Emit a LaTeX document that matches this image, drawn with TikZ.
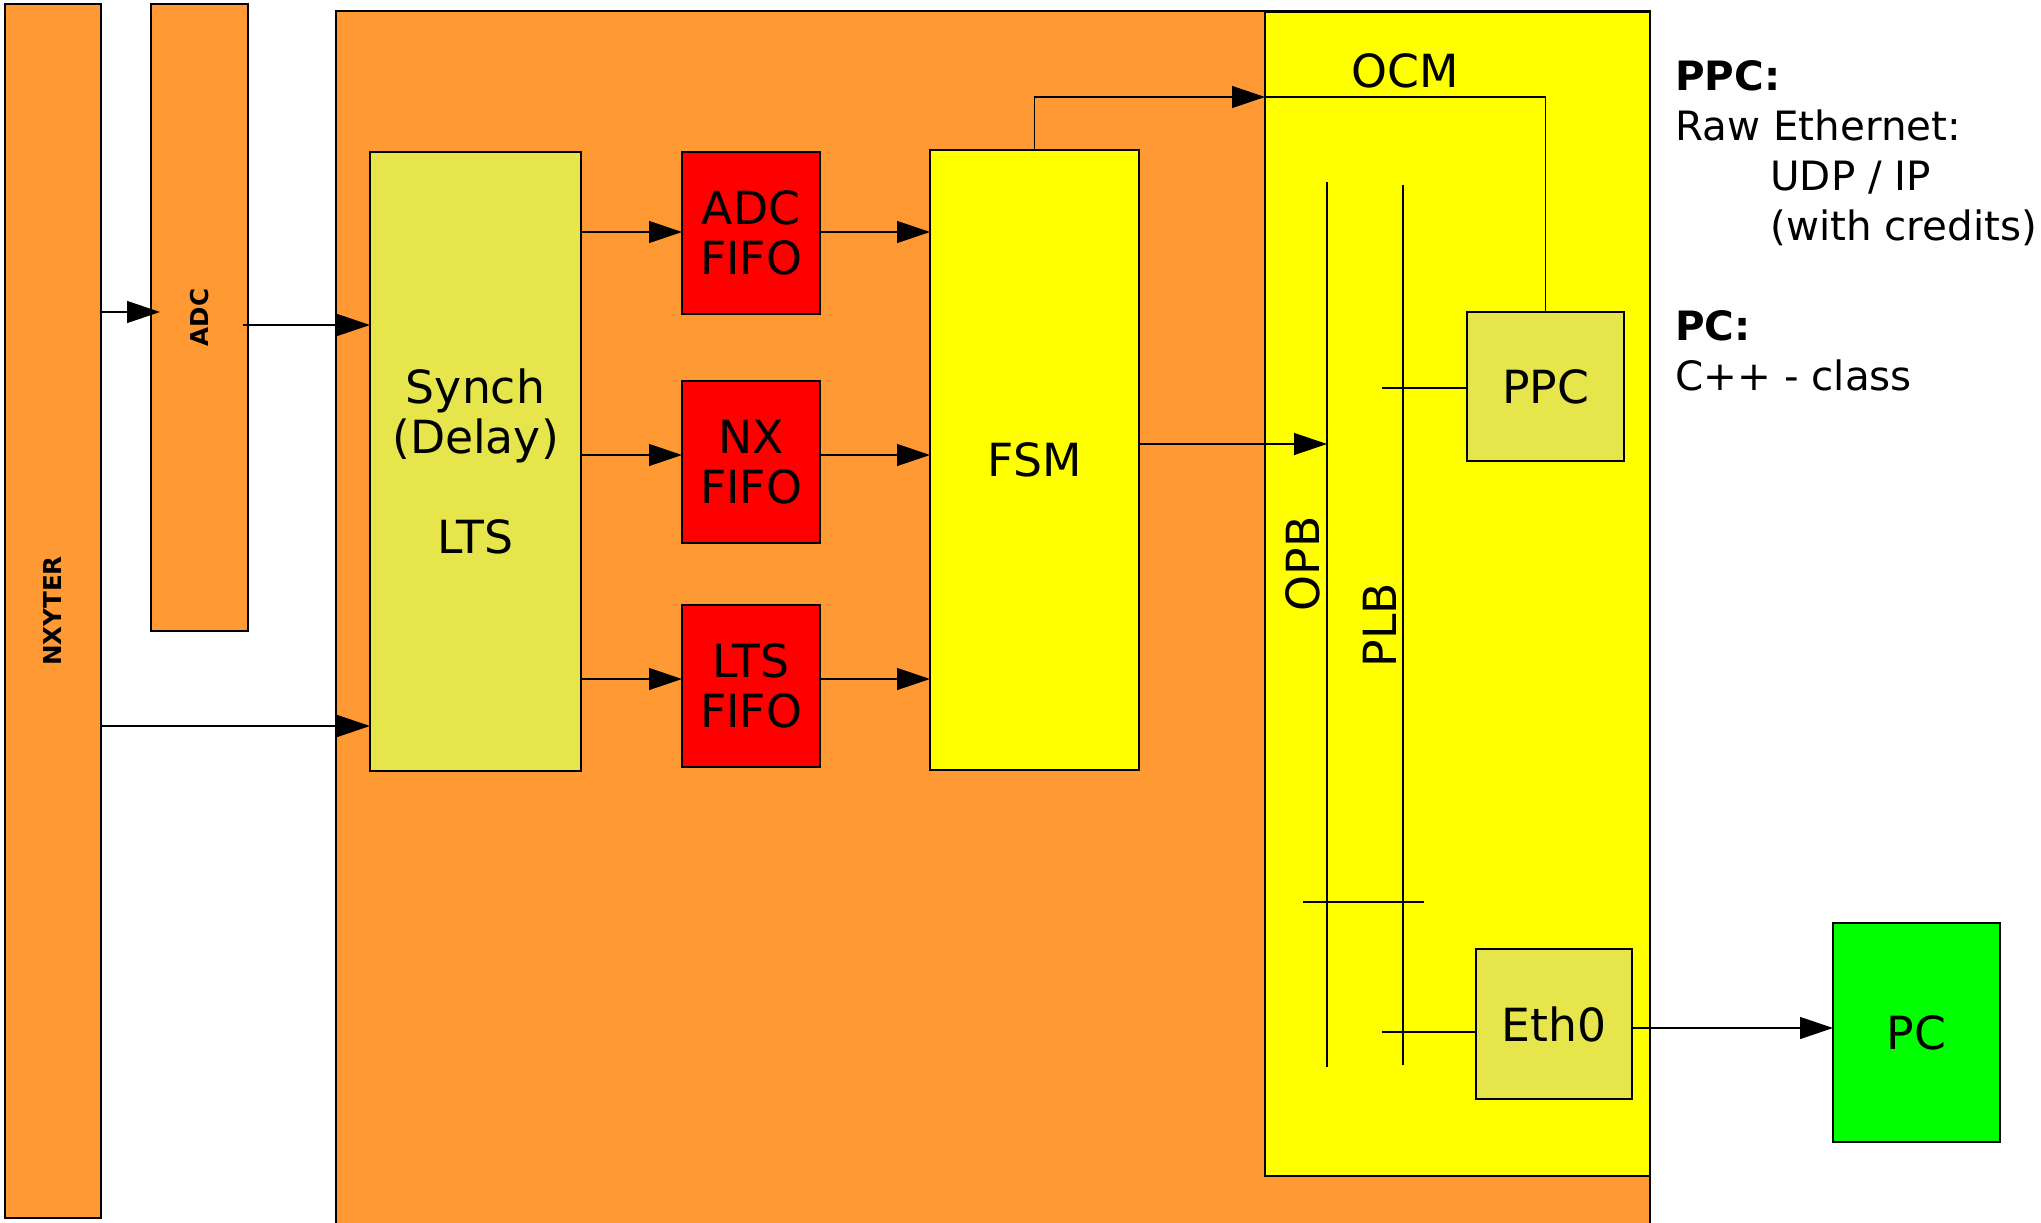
\documentclass[tikz,border=0pt]{standalone}
\usepackage{fontspec}
\setmainfont{DejaVu Sans}
\usetikzlibrary{arrows.meta}
\definecolor{boxorange}{HTML}{FF9933}
\definecolor{boxolive}{HTML}{E6E64C}
\definecolor{boxyellow}{HTML}{FFFF00}
\definecolor{boxred}{HTML}{FF0000}
\definecolor{boxgreen}{HTML}{00FF00}

\begin{document}
\begin{tikzpicture}[x=0.02cm,y=-0.02cm,
    blk/.style 2 args={draw=black, line width=0.03cm, inner sep=0pt, outer sep=0pt,
        minimum width=#1*0.02cm, minimum height=#2*0.02cm},
    lbl/.style={font=\fontsize{26}{28.45}\selectfont, align=center},
    tag/.style={font=\fontsize{14}{16}\selectfont\bfseries, rotate=90},
    flow/.style={line width=0.025cm, -{Triangle[length=0.66cm,width=0.44cm]}},
    wire/.style={line width=0.025cm}]
    \clip (0,0) rectangle (2041,1223);
    \fill[white] (0,0) rectangle (2041,1223);
    % front end
    \node[blk={96}{1214}, fill=boxorange] (nx) at (53,611) {};
    \node[tag] (nxlbl) at (nx) {NXYTER};
    \node[blk={97}{627}, fill=boxorange] (adc) at (199.5,317.5) {};
    \node[tag] (adclbl) at (adc) {ADC};
    % fpga
    \node[blk={1314}{1240}, fill=boxorange] (fpga) at (993,631) {};
    \node[blk={385}{1164}, fill=boxyellow] (ocm) at (1457.5,594) {};
    \node[lbl] (ocmlbl) at (1405,71) {OCM};
    \node[blk={211}{619}, fill=boxolive, lbl] (synch) at (475.5,461.5) {Synch\\(Delay)\\[1cm]LTS};
    \foreach \name/\y/\txt in {adcfifo/233/ADC, nxfifo/462/NX, ltsfifo/686/LTS}{
        \node[blk={138}{162}, fill=boxred, lbl] (\name) at (751,\y) {\txt\\FIFO};
    }
    \node[blk={209}{620}, fill=boxyellow, lbl] (fsm) at (1034.5,460) {FSM};
    \node[blk={157}{149}, fill=boxolive, lbl] (ppc) at (1545.5,386.5) {PPC};
    \node[blk={156}{150}, fill=boxolive, lbl] (eth) at (1554,1024) {Eth0};
    \node[blk={167}{219}, fill=boxgreen, lbl] (pc) at (1916.5,1032.5) {PC};
    % buses
    \coordinate (opbtop) at (1327,182);
    \coordinate (opbbot) at (1327,1067);
    \coordinate (plbtop) at (1403,185);
    \coordinate (plbbot) at (1403,1065);
    \coordinate (brl) at (1303,902);
    \coordinate (brr) at (1424,902);
    \coordinate (ppctap) at (1382,388);
    \coordinate (ethtap) at (1382,1032);
    \draw[wire] (opbtop) -- (opbbot);
    \draw[wire] (plbtop) -- (plbbot);
    \draw[wire] (brl) -- (brr);
    \draw[wire] (ppctap) -- (ppc.west |- ppctap);
    \draw[wire] (ethtap) -- (eth.west |- ethtap);
    \node[lbl, rotate=90] (opblbl) at (1303,564) {OPB};
    \node[lbl, rotate=90] (plblbl) at (1380,625) {PLB};
    % data flow
    \draw[flow] (nx.east |- 0,312) -- ([xshift=0.18cm]adc.west |- 0,312);
    \draw[flow] ([xshift=-0.1cm]adc.east |- 0,325) -- (synch.west |- 0,325);
    \draw[flow] (nx.east |- 0,726) -- (synch.west |- 0,726);
    \foreach \name/\y in {adcfifo/232, nxfifo/455, ltsfifo/679}{
        \draw[flow] (synch.east |- 0,\y) -- (\name.west |- 0,\y);
        \draw[flow] (\name.east |- 0,\y) -- (fsm.west |- 0,\y);
    }
    \draw[flow] (fsm.north) |- (ocm.west |- 0,97);
    \draw[wire] (ocm.west |- 0,97) -| (ppc.north);
    \draw[flow] (fsm.east |- 0,444) -- (opbtop |- 0,444);
    \draw[flow] (eth.east |- 0,1028) -- (pc.west |- 0,1028);
    % notes
    \node[anchor=north west, align=left, inner sep=0pt,
        font=\fontsize{23}{28.45}\selectfont] (notes) at (1675,60)
        {\textbf{PPC:}\\Raw Ethernet:\\\hspace*{1.9cm}UDP / IP\\\hspace*{1.9cm}(with credits)\\[1cm]\textbf{PC:}\\C++ - class};
\end{tikzpicture}
\end{document}
